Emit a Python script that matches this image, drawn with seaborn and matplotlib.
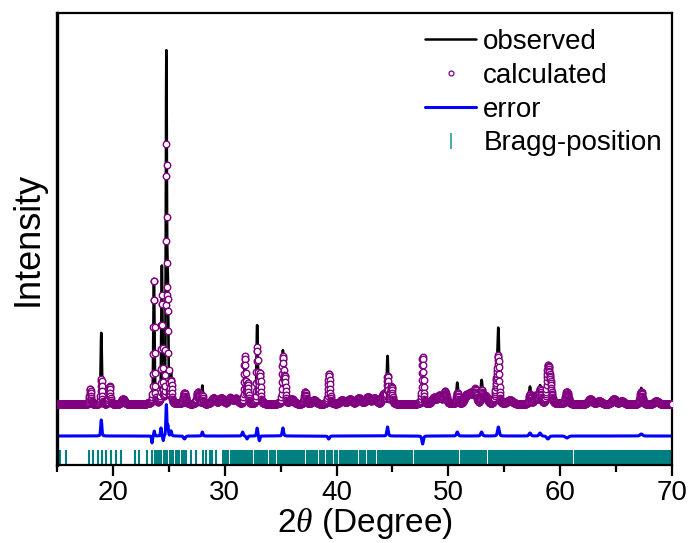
import numpy as np
import pandas as pd
import seaborn as sns
import matplotlib
matplotlib.use("Agg")
import matplotlib.pyplot as plt
from matplotlib.lines import Line2D
from matplotlib.ticker import MultipleLocator

# ---------------- data ----------------
# reflections: position (deg 2theta), observed height, calculated height, FWHM (deg)
peak_pos    = [17.97, 18.96, 19.70, 20.90, 23.67, 24.38, 24.78, 24.90, 25.20, 26.40,
               27.60, 28.00, 29.00, 29.70, 30.50, 31.00, 31.80, 32.05, 32.90, 33.15,
               35.20, 35.38, 36.00, 37.20, 38.00, 39.33, 40.50, 41.20, 42.00, 42.80,
               43.40, 44.20, 44.56, 44.90, 47.70, 48.70, 49.20, 49.70, 50.80, 51.60,
               52.00, 52.40, 52.97, 53.30, 54.30, 54.47, 55.50, 57.30, 57.80, 58.20,
               58.90, 59.10, 60.60, 62.70, 63.50, 64.80, 65.50, 67.25, 68.60]
obs_height  = [14, 71, 16, 4, 127, 136, 340, 120, 31, 10,
               10, 18, 6, 6, 6, 5, 47, 18, 78, 25,
               52, 28, 5, 10, 4, 29, 4, 5, 6, 7,
               6, 10, 47, 18, 22, 6, 8, 10, 21, 8,
               10, 13, 22, 8, 20, 70, 4, 17, 8, 18,
               32, 18, 10, 5, 3, 5, 3, 16, 3]
calc_height = [15, 25, 18, 5, 125, 107, 250, 90, 22, 11,
               12, 8, 6, 6, 6, 5, 47, 20, 56, 30,
               46, 25, 5, 12, 4, 30, 4, 5, 6, 7,
               6, 10, 27, 17, 47, 6, 8, 12, 11, 8,
               10, 14, 12, 8, 20, 42, 4, 10, 8, 14,
               32, 20, 12, 5, 3, 5, 3, 12, 3]
peak_fwhm   = [0.15, 0.12, 0.15, 0.30, 0.12, 0.12, 0.10, 0.12, 0.14, 0.25,
               0.25, 0.12, 0.40, 0.40, 0.40, 0.40, 0.15, 0.15, 0.13, 0.15,
               0.15, 0.15, 0.40, 0.20, 0.40, 0.18, 0.40, 0.40, 0.40, 0.40,
               0.40, 0.30, 0.15, 0.20, 0.16, 0.40, 0.40, 0.30, 0.18, 0.40,
               0.40, 0.30, 0.18, 0.40, 0.25, 0.18, 0.50, 0.20, 0.30, 0.22,
               0.25, 0.30, 0.30, 0.40, 0.40, 0.40, 0.40, 0.25, 0.40]

# difference curve features: position, amplitude, FWHM
err_pos  = [18.96, 23.50, 23.70, 24.30, 24.50, 24.78, 24.92, 25.20, 26.40, 28.00,
            31.60, 32.00, 32.90, 33.10, 35.20, 39.30, 44.56, 47.70, 50.80, 52.97,
            54.47, 57.30, 58.20, 58.90, 60.60, 67.25]
err_amp  = [16, -7, 5, 8, -5, 31, 10, 5, -3, 4,
            4, -3, 8, -5, 8, -3, 9, -8, 4, 4,
            9, 3, 3, -3, -2, 2]
err_fwhm = [0.12, 0.10, 0.10, 0.10, 0.10, 0.10, 0.10, 0.12, 0.20, 0.12,
            0.15, 0.15, 0.12, 0.12, 0.15, 0.18, 0.15, 0.16, 0.18, 0.18,
            0.18, 0.20, 0.20, 0.25, 0.30, 0.25]

# resolvable Bragg reflections
bragg_lines = [15.28, 15.82, 17.85, 18.21, 18.66, 19.04, 19.40, 19.79, 20.24, 20.74,
               21.94, 22.30, 23.04, 23.52, 23.73, 23.94, 24.12, 24.33, 27.00, 27.46,
               28.10, 28.30, 28.65, 28.90, 29.20]
# groups of reflections too dense to resolve (start, end)
bragg_band_start = [24.45, 25.05, 25.55, 26.10, 29.80, 30.50, 31.32, 32.65, 33.92, 34.65,
                    37.30, 38.45, 39.05, 39.80, 40.25, 42.05, 42.75, 43.65, 46.90, 51.05,
                    53.55, 61.25]
bragg_band_end   = [24.95, 25.45, 26.00, 26.60, 30.40, 31.25, 32.55, 33.85, 34.55, 37.20,
                    38.35, 38.95, 39.70, 40.15, 41.95, 42.65, 43.55, 46.80, 50.95, 53.45,
                    61.15, 70.00]

x_ticks = [20, 30, 40, 50, 60, 70]

# ---------------- layout constants ----------------
ERR_OFFSET = -32
BRAGG_TOP, BRAGG_BOTTOM = -46, -61


def pseudo_voigt(x, pos, height, fwhm, eta=0.5):
    out = np.zeros_like(x)
    for p, h, w in zip(pos, height, fwhm):
        g = np.exp(-4 * np.log(2) * ((x - p) / w) ** 2)
        l = 1.0 / (1.0 + 4 * ((x - p) / w) ** 2)
        out += h * (eta * l + (1 - eta) * g)
    return out


two_theta = np.round(np.arange(15.0, 70.0001, 0.02), 3)
obs = pseudo_voigt(two_theta, peak_pos, obs_height, peak_fwhm, eta=0.3)
calc = pseudo_voigt(two_theta, peak_pos, calc_height, peak_fwhm, eta=0.3)
err = ERR_OFFSET + pseudo_voigt(two_theta, err_pos, err_amp, err_fwhm, eta=0.3)

df = pd.DataFrame({"two_theta": two_theta, "observed": obs,
                   "calculated": calc, "error": err})

# ---------------- style ----------------
sns.set_style("ticks")
plt.rcParams["font.family"] = ["Liberation Sans", "DejaVu Sans"]
plt.rcParams["mathtext.fontset"] = "custom"
plt.rcParams["mathtext.rm"] = "Liberation Sans"
plt.rcParams["mathtext.it"] = "Liberation Serif:italic"
plt.rcParams["text.color"] = "black"
plt.rcParams["axes.labelcolor"] = "black"
plt.rcParams["xtick.color"] = "black"
plt.rcParams["xtick.labelcolor"] = "black"

fig = plt.figure(figsize=(6.92, 5.43), dpi=100)
ax = fig.add_axes([57 / 692, 1 - 465 / 543, (672 - 57) / 692, (465 - 13) / 543])

sns.lineplot(data=df, x="two_theta", y="observed", ax=ax, color="black",
             linewidth=1.9, estimator=None, sort=False, zorder=2)
sns.scatterplot(data=df, x="two_theta", y="calculated", ax=ax, marker="o",
                s=22, facecolor="white", edgecolor="#800080", linewidth=1.0,
                zorder=3)
sns.lineplot(data=df, x="two_theta", y="error", ax=ax, color="#0000FF",
             linewidth=2.2, estimator=None, sort=False, zorder=2)

ax.vlines(bragg_lines, BRAGG_BOTTOM, BRAGG_TOP, color="#008080", linewidth=1.5,
          zorder=2)
ax.bar(bragg_band_start,
       height=BRAGG_TOP - BRAGG_BOTTOM,
       width=np.array(bragg_band_end) - np.array(bragg_band_start),
       bottom=BRAGG_BOTTOM, align="edge", color="#008080", linewidth=0,
       zorder=2)

ax.set_xlim(15, 70)
ax.set_ylim(-61, 391)
ax.set_yticks([])
ax.set_xticks(x_ticks)
ax.set_xticklabels([str(t) for t in x_ticks])
ax.xaxis.set_minor_locator(MultipleLocator(5))
ax.tick_params(axis="x", which="major", direction="out", length=8, width=1.6,
               labelsize=20, pad=3, color="black", labelcolor="black")
ax.tick_params(axis="x", which="minor", direction="out", length=5, width=1.6,
               color="black")

for side in ["top", "right", "bottom"]:
    ax.spines[side].set_linewidth(1.6)
    ax.spines[side].set_color("black")
ax.spines["left"].set_linewidth(2.4)
ax.spines["left"].set_color("black")

ax.set_xlabel(r"$2\theta$ (Degree)", fontsize=24, labelpad=0, color="black")
ax.set_ylabel("Intensity", fontsize=26, labelpad=8, color="black")

handles = [
    Line2D([], [], color="black", linewidth=1.8),
    Line2D([], [], color="#800080", marker="o", markersize=3.5,
           markerfacecolor="white", markeredgewidth=0.9, linestyle="none"),
    Line2D([], [], color="#0000FF", linewidth=2.2),
    Line2D([], [], color="#3aa3a3", marker="|", markersize=12,
           markeredgewidth=1.3, linestyle="none"),
]
labels = ["observed", "calculated", "error", "Bragg-position"]
leg = ax.legend(handles, labels, loc="upper left", frameon=False, fontsize=20,
                bbox_to_anchor=(425 / 692, 1 - 29 / 543),
                bbox_transform=fig.transFigure,
                borderpad=0, borderaxespad=0, handlelength=1.85,
                handletextpad=0.25, labelspacing=0.28)
for t in leg.get_texts():
    t.set_color("black")

fig.savefig("out.png", dpi=100)
